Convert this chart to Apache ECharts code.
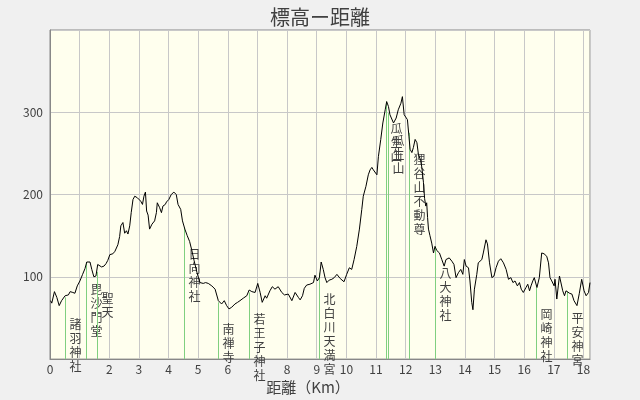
<!DOCTYPE html>
<html><head><meta charset="utf-8">
<script src="https://cdn.jsdelivr.net/npm/echarts@6/dist/echarts.min.js"></script>
<style>html,body{margin:0;padding:0;background:#f0f0f0;}#c{width:640px;height:400px;}</style>
</head><body><div id="c"></div>
<script>
// ---- data ----
const chartTitle = '標高ー距離';
const xAxisName = '距離（Km）';
const distanceKm = [0.02,0.06,0.15,0.23,0.31,0.39,0.51,0.56,0.62,0.68,0.77,0.84,0.92,1.01,1.10,1.18,1.24,1.29,1.35,1.41,1.48,1.55,1.61,1.66,1.74,1.82,1.89,1.95,2.02,2.12,2.19,2.25,2.29,2.35,2.39,2.46,2.52,2.58,2.63,2.69,2.74,2.80,2.86,2.95,3.06,3.12,3.17,3.22,3.26,3.31,3.36,3.44,3.53,3.59,3.62,3.70,3.76,3.81,3.89,3.93,4.01,4.09,4.18,4.26,4.32,4.41,4.47,4.55,4.63,4.71,4.78,4.86,4.96,5.06,5.12,5.17,5.25,5.34,5.46,5.57,5.68,5.79,5.88,5.96,6.04,6.13,6.24,6.33,6.41,6.52,6.64,6.72,6.81,6.92,7.01,7.09,7.16,7.26,7.31,7.42,7.50,7.59,7.70,7.82,7.91,8.04,8.16,8.27,8.38,8.44,8.52,8.58,8.66,8.77,8.89,8.94,9.02,9.09,9.15,9.22,9.28,9.34,9.42,9.51,9.59,9.68,9.79,9.92,10.01,10.10,10.18,10.26,10.35,10.44,10.52,10.57,10.66,10.74,10.80,10.86,10.91,10.97,11.03,11.08,11.16,11.23,11.31,11.36,11.42,11.47,11.53,11.59,11.68,11.75,11.84,11.89,11.95,12.00,12.06,12.11,12.15,12.21,12.26,12.32,12.38,12.43,12.51,12.55,12.60,12.64,12.68,12.71,12.74,12.77,12.82,12.88,12.94,12.99,13.05,13.09,13.14,13.22,13.30,13.36,13.41,13.47,13.56,13.63,13.70,13.78,13.86,13.93,13.98,14.04,14.12,14.17,14.23,14.27,14.32,14.40,14.45,14.51,14.57,14.62,14.71,14.76,14.83,14.91,14.98,15.05,15.13,15.21,15.30,15.39,15.47,15.55,15.62,15.69,15.77,15.84,15.90,15.97,16.06,16.12,16.18,16.23,16.29,16.34,16.43,16.51,16.59,16.67,16.76,16.82,16.87,16.93,17.01,17.04,17.10,17.15,17.19,17.25,17.30,17.36,17.41,17.47,17.53,17.61,17.68,17.78,17.86,17.94,18.02,18.09,18.17,18.22];
const elevationM = [71,68,82,75,65,71,77,75,78,82,81,80,89,95,103,110,118,120,118,109,100,101,115,116,112,113,116,120,127,128,131,133,139,149,162,166,153,156,152,162,178,194,198,196,192,188,198,203,180,175,158,164,168,178,190,184,178,186,188,191,194,200,203,200,188,182,168,158,150,143,133,120,105,93,91,92,93,92,89,85,71,67,71,65,61,63,67,69,71,74,77,84,82,81,92,81,69,77,74,83,88,85,88,81,78,79,71,81,75,72,77,86,90,91,93,102,95,99,118,109,99,93,96,97,99,103,98,94,103,111,109,121,137,158,182,198,210,224,230,233,230,232,224,246,267,287,303,313,307,297,299,287,293,303,311,319,297,299,291,271,255,251,257,267,263,249,241,232,215,195,186,190,172,158,150,141,129,137,132,133,129,121,113,121,119,123,119,115,99,105,109,103,121,113,111,95,69,60,85,103,117,119,121,129,145,140,117,99,101,111,119,122,117,109,97,99,93,95,89,93,85,81,87,91,83,89,95,99,87,99,129,128,125,117,99,95,89,97,73,89,101,101,83,77,83,85,80,79,71,65,80,97,83,77,81,93];
const landmarkNames = ['諸羽神社','毘沙門堂','聖天','日向神社','南禅寺','若王子神社','北白川天満宮','瓜生山','瓜生山','狸谷山不動尊','八大神社','岡崎神社','平安神宮'];
const landmarkKm    = [0.52,1.23,1.60,4.53,5.68,6.71,9.09,11.34,11.41,12.11,13.00,16.41,17.43];
const landmarkElev  = [75,118,106,160,69,81,105,313,299,275,137,87,82];
const xTickLabels = ['0','','2','3','4','5','6','','8','9','10','11','12','13','14','15','16','17','18'];
const yTickLabels = {100:'100',200:'200',300:'300'};

// ---- chart ----
const FONT = '"Noto Sans CJK JP", "Noto Sans", sans-serif';
const chart = echarts.init(document.getElementById('c'), null, {renderer:'canvas'});
const profile = distanceKm.map((d,i)=>[d, elevationM[i]]);
const marks = landmarkKm.map((d,i)=>[d, landmarkElev[i], i]);

chart.setOption({
  backgroundColor:'#f0f0f0',
  animation:false,
  title:{text:chartTitle,left:'center',top:2,
    textStyle:{fontSize:20,fontWeight:'normal',color:'#404040',fontFamily:FONT}},
  grid:{left:50,right:50,top:30,bottom:40,show:true,backgroundColor:'#ffffee',borderColor:'#888',borderWidth:1},
  xAxis:{type:'value',min:0,max:18.22,interval:1,
    name:xAxisName,nameLocation:'middle',nameGap:17,
    nameTextStyle:{fontSize:15,color:'#404040',fontFamily:FONT,padding:[0,24,0,0]},
    axisLine:{show:true,lineStyle:{color:'#888'}},axisTick:{show:false},
    splitLine:{show:true,lineStyle:{color:'#c8c8c8',width:1}},
    axisLabel:{color:'#404040',fontSize:12,fontFamily:FONT,margin:4,showMaxLabel:false,
      formatter:v=>{const r=Math.round(v);return Math.abs(v-r)<1e-6&&xTickLabels[r]!==undefined?xTickLabels[r]:'';}}},
  yAxis:{type:'value',min:0,max:400,interval:100,
    axisLine:{show:true,lineStyle:{color:'#888'}},axisTick:{show:false},
    splitLine:{show:true,lineStyle:{color:'#c8c8c8',width:1}},
    axisLabel:{color:'#404040',fontSize:12,fontFamily:FONT,margin:7,
      formatter:v=>yTickLabels[v]||''}},
  series:[
    {type:'custom',z:1,data:marks,
     renderItem:(params,api)=>{
       const k=api.value(0), e=api.value(1), idx=api.value(2);
       const top=api.coord([k,e]), base=api.coord([k,0]);
       const x=Math.round(top[0])+0.5;
       const name=landmarkNames[idx];
       return {type:'group',children:[
         {type:'line',shape:{x1:x,y1:top[1],x2:x,y2:base[1]},style:{stroke:'#80d080',lineWidth:1}},
         {type:'text',x:x+4,y:top[1]+20,style:{text:name.split('').join('\n'),fill:'#404040',
           font:'12px '+FONT,lineHeight:14,verticalAlign:'top',align:'left'}}
       ]};
     }},
    {type:'line',z:3,data:profile,showSymbol:false,symbol:'none',smooth:false,
     lineStyle:{color:'#000',width:1},itemStyle:{color:'#000'}}
  ]
});
</script></body></html>
